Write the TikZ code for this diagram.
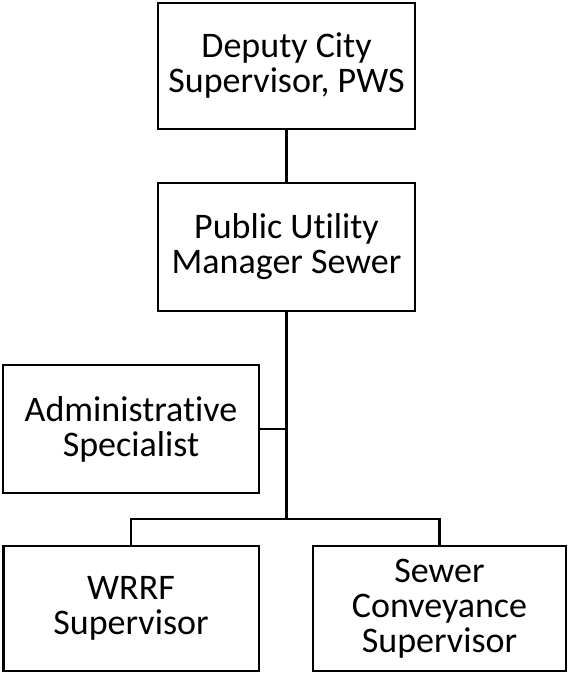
\documentclass[tikz,border=0pt]{standalone}
\usepackage{fontspec}
\setmainfont[Ligatures={NoCommon}]{Carlito}
\begin{document}
\begin{tikzpicture}[x=1pt,y=-1pt,
  orgbox/.style={draw, line width=2.5pt, align=center, inner sep=0pt,
    font=\fontsize{36}{35}\selectfont},
  link/.style={line width=2.5pt}]
\useasboundingbox (0,0) rectangle (568,673);
% boxes
\node[orgbox, minimum width=257pt, minimum height=126pt] (dep) at (286.5,66) {Deputy City\\Supervisor, PWS};
\node[orgbox, minimum width=257pt, minimum height=128pt] (mgr) at (286.5,247) {Public Utility\\Manager Sewer};
\node[orgbox, minimum width=256pt, minimum height=128pt] (adm) at (131,429) {Administrative\\Specialist};
\node[orgbox, minimum width=255.5pt, minimum height=125pt] (wrrf) at (131,608.5) {WRRF\\Supervisor};
\node[orgbox, minimum width=253pt, minimum height=125pt] (sew) at (439.5,608.5) {Sewer\\Conveyance\\Supervisor};
\coordinate (junc) at (286.5,519);
% connectors
\draw[link] (dep) -- (mgr);
\draw[link] (mgr.south) -- (junc);
\draw[link] (adm.east) -- (adm.east -| junc);
\draw[link] (wrrf.north) |- (junc) -| (sew.north);
\end{tikzpicture}
\end{document}
